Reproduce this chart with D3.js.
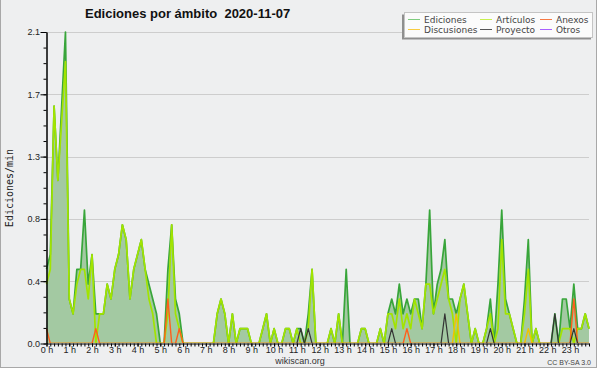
<!DOCTYPE html>
<html>
<head>
<meta charset="utf-8">
<script src="https://cdn.jsdelivr.net/npm/d3@7"></script>
<style>
  body { margin: 0; background: #fff; }
</style>
</head>
<body>
<div id="chart"></div>
<script>
// edits per minute, one value every 10 minutes (6 per hour row)
const ediciones = [
  0.5,0.6,1.6,1.1,1.6,2.1,  0.3,0.2,0.5,0.5,0.9,0.4,  0.6,0.2,0.2,0.2,0.4,0.3,
  0.5,0.6,0.8,0.7,0.3,0.5,  0.6,0.7,0.5,0.4,0.3,0.2,  0,0,0.5,0.8,0.3,0.2,
  0,0,0,0,0,0,              0,0,0,0.2,0.3,0.2,        0,0.2,0,0.1,0.1,0.1,
  0,0,0,0.1,0.2,0,          0.1,0,0,0.1,0.1,0,        0.1,0.1,0,0.2,0.5,0,
  0,0,0,0.1,0,0.2,          0,0.5,0,0,0,0.1,          0.1,0,0,0,0.1,0,
  0.2,0.3,0.2,0.4,0.2,0.3,  0.2,0.3,0.3,0.1,0.4,0.9,  0.2,0.4,0.5,0.7,0.3,0.3,
  0.2,0.3,0.4,0.2,0,0.1,    0,0,0.1,0.3,0,0.4,        0.9,0.3,0.2,0.1,0,0,
  0.3,0.7,0,0.1,0,0,        0,0,0.2,0,0.3,0.3,        0.1,0.4,0.1,0.1,0.2,0.1
];
const articulos = [
  0.4,0.5,1.6,1.1,1.5,1.9,  0.3,0.2,0.4,0.5,0.5,0.3,  0.6,0,0.2,0.2,0.4,0.3,
  0.5,0.6,0.8,0.7,0.3,0.5,  0.6,0.7,0.5,0.3,0.2,0,    0,0,0.2,0.8,0.2,0.1,
  0,0,0,0,0,0,              0,0,0,0.2,0.3,0.2,        0,0.2,0,0.1,0.1,0.1,
  0,0,0,0.1,0.2,0,          0.1,0,0,0.1,0.1,0,        0.1,0,0,0.1,0.5,0,
  0,0,0,0.1,0,0.2,          0,0,0,0,0,0.1,            0.1,0,0,0,0.1,0,
  0.2,0.2,0.1,0.3,0.1,0.2,  0.1,0.3,0.2,0.1,0.4,0.4,  0.2,0.3,0.4,0.5,0.3,0.2,
  0,0.3,0.4,0.2,0,0.1,      0,0,0.1,0.2,0,0.1,        0.7,0.2,0.2,0.1,0,0,
  0.2,0.5,0,0.1,0,0,        0,0,0,0,0.1,0.1,          0.1,0,0.1,0.1,0.2,0.1
];
const anexos = [
  0.1,0,0,0,0,0,  0,0,0,0,0,0,  0,0.1,0,0,0,0,  0,0,0,0,0,0,  0,0,0,0,0,0,  0,0,0.3,0,0,0.1,
  0,0,0,0,0,0,    0,0,0,0,0,0,  0,0,0,0,0,0,    0,0,0,0,0,0,  0,0,0,0,0,0,  0,0,0,0,0,0,
  0,0,0,0,0,0,    0,0,0,0,0,0,  0,0,0,0,0,0,    0,0,0,0,0,0.1, 0,0,0,0,0,0, 0,0,0,0,0,0,
  0,0,0,0,0,0,    0,0,0,0,0,0,  0,0,0,0,0,0,    0,0,0,0,0,0,  0,0,0,0,0,0,  0,0.3,0,0,0,0
];
const discusiones = [
  0,0,0,0,0,0,  0,0,0,0,0,0,  0,0,0,0,0,0,  0,0,0,0,0,0,  0,0,0,0,0,0,  0,0,0,0,0,0,
  0,0,0,0,0,0,  0,0,0,0,0,0,  0,0,0,0,0,0,  0,0,0,0,0,0,  0,0,0,0,0,0,  0,0,0,0,0,0,
  0,0,0,0,0,0,  0,0,0,0,0,0,  0,0,0,0,0,0,  0,0,0,0,0,0,  0,0,0,0,0,0,  0,0,0,0,0,0,
  0.2,0,0,0,0,0, 0,0,0,0,0,0, 0,0,0,0,0,0,  0,0.1,0,0,0,0, 0,0,0,0,0,0, 0,0,0,0,0,0
];
const proyecto = [
  0,0,0,0,0,0,  0,0,0,0,0,0,  0,0,0,0,0,0,  0,0,0,0,0,0,  0,0,0,0,0,0,  0,0,0,0,0,0,
  0,0,0,0,0,0,  0,0,0,0,0,0,  0,0,0,0,0,0,  0,0,0,0,0,0,  0,0,0,0,0,0,  0,0.1,0,0.1,0,0,
  0,0,0,0,0,0,  0,0,0,0,0,0,  0,0,0,0,0,0,  0,0.1,0,0,0,0, 0,0,0,0,0,0, 0,0,0,0.2,0,0,
  0,0,0,0,0,0,  0,0,0,0.1,0,0, 0,0,0,0,0,0, 0,0,0,0,0,0,  0,0,0.2,0,0,0, 0,0.1,0,0,0,0
];
const otros = new Array(144).fill(0);

const hourLabels = d3.range(24).map(h => h + ' h');
const yTicks = [0, 0.42, 0.84, 1.26, 1.68, 2.1];
const seriesNames = ['Ediciones', 'Artículos', 'Anexos', 'Discusiones', 'Proyecto', 'Otros'];

const width = 600;
const height = 370;
const margin = { top: 32, right: 11, bottom: 26.5, left: 46.5 };
const bg = '#eeeff0';

const svg = d3.select('#chart').append('svg')
    .attr('width', width)
    .attr('height', height);

// frame
svg.append('rect')
    .attr('x', 0.5).attr('y', -2)
    .attr('width', 596).attr('height', 369.5)
    .attr('fill', bg)
    .attr('stroke', '#a8a8a8');

const x = d3.scaleLinear()
    .domain([0, 143])
    .range([margin.left, width - margin.right]);
const y = d3.scaleLinear()
    .domain([0, 2.1])
    .range([height - margin.bottom, margin.top]);

// keep zero-valued lines from bleeding below the x axis
svg.append('clipPath').attr('id', 'plot')
    .append('rect')
    .attr('x', margin.left - 2).attr('y', 0)
    .attr('width', width - margin.left - margin.right + 4)
    .attr('height', y(0) - 0.5);

// grid
svg.append('g').selectAll('line')
    .data(yTicks.slice(1))
    .enter().append('line')
    .attr('x1', margin.left).attr('x2', width - margin.right)
    .attr('y1', d => Math.round(y(d)) + 0.5).attr('y2', d => Math.round(y(d)) + 0.5)
    .attr('stroke', '#cdcdcd');

const idx = d3.range(144);
const plot = svg.append('g').attr('clip-path', 'url(#plot)');

plot.append('path')
    .datum(idx)
    .attr('d', d3.area().x(i => x(i)).y0(y(0)).y1(i => y(ediciones[i])))
    .attr('fill', '#a3c9a2');

const line = arr => d3.line().x(i => x(i)).y(i => y(arr[i]));

const drawLine = (arr, color, w) => plot.append('path')
    .datum(idx)
    .attr('d', line(arr))
    .attr('fill', 'none')
    .attr('stroke', color)
    .attr('stroke-width', w)
    .attr('stroke-linejoin', 'round');

drawLine(otros, '#9a40ff', 1.2);
drawLine(ediciones, '#38a53a', 1.7);
drawLine(articulos, '#a2e400', 1.7);
drawLine(discusiones, '#f2c200', 1.4);
drawLine(anexos, '#ff5f1c', 1.4);
drawLine(proyecto, '#333', 1.2);

// y axis: minor + major
svg.append('g')
    .attr('transform', `translate(${margin.left},0)`)
    .call(d3.axisLeft(y).tickValues(d3.range(21).map(k => k * 0.105)).tickSize(3).tickSizeOuter(0).tickFormat(''));
const yAxis = svg.append('g')
    .attr('transform', `translate(${margin.left},0)`)
    .call(d3.axisLeft(y).tickValues(yTicks).tickSize(6).tickSizeOuter(0).tickFormat(d3.format('.1f')));
yAxis.selectAll('text')
    .attr('font-family', 'Liberation Sans')
    .attr('font-size', 9)
    .attr('fill', '#222')
    .attr('x', -6.5);

// x axis: 10 minute ticks + hour labels
svg.append('g')
    .attr('transform', `translate(0,${y(0)})`)
    .call(d3.axisBottom(x).tickValues(idx).tickSize(3).tickSizeOuter(0).tickFormat(''));
const xAxis = svg.append('g')
    .attr('transform', `translate(0,${y(0)})`)
    .call(d3.axisBottom(x).tickValues(d3.range(24).map(h => h * 6)).tickSize(3).tickSizeOuter(0)
        .tickFormat(d => hourLabels[d / 6]));
xAxis.select('.domain').remove();
xAxis.selectAll('text')
    .attr('font-family', 'Liberation Sans')
    .attr('font-size', 9)
    .attr('fill', '#222')
    .attr('y', 3)
    .attr('dy', '0.71em');

// titles
svg.append('text')
    .attr('x', 85).attr('y', 18)
    .attr('font-family', 'Liberation Sans')
    .attr('font-weight', 'bold')
    .attr('font-size', 13)
    .attr('fill', '#111')
    .attr('xml:space', 'preserve')
    .text('Ediciones por ámbito  2020-11-07');

svg.append('text')
    .attr('transform', 'translate(13,188) rotate(-90)')
    .attr('text-anchor', 'middle')
    .attr('font-family', 'DejaVu Sans Mono')
    .attr('font-size', 10)
    .attr('fill', '#222')
    .text('Ediciones/min');

svg.append('text')
    .attr('x', 300).attr('y', 364)
    .attr('text-anchor', 'middle')
    .attr('font-family', 'Liberation Sans')
    .attr('font-size', 9)
    .attr('fill', '#333')
    .text('wikiscan.org');

svg.append('text')
    .attr('x', 591).attr('y', 365)
    .attr('text-anchor', 'end')
    .attr('font-family', 'Liberation Sans')
    .attr('font-size', 7)
    .attr('fill', '#444')
    .text('CC BY-SA 3.0');

// legend
const legendColors = ['#7fcc7f', '#c8f050', '#f77a45', '#f8cc40', '#555', '#a860ff'];
svg.append('rect')
    .attr('x', 402).attr('y', 14.5)
    .attr('width', 189).attr('height', 25)
    .attr('fill', '#8f8f8f');
svg.append('rect')
    .attr('x', 404.5).attr('y', 12.5)
    .attr('width', 188).attr('height', 25)
    .attr('fill', '#fbfbfb')
    .attr('stroke', '#c4c4c4');

const colX = [408, 480, 540];
const legend = svg.append('g').selectAll('g')
    .data(seriesNames)
    .enter().append('g')
    .attr('transform', (d, i) => `translate(${colX[i % 3]},${19.5 + Math.floor(i / 3) * 10})`);
legend.append('line')
    .attr('x1', 0).attr('x2', 12)
    .attr('stroke', (d, i) => legendColors[i]);
legend.append('text')
    .attr('x', 16).attr('y', 3.2)
    .attr('font-family', 'DejaVu Sans')
    .attr('font-size', 9)
    .attr('fill', '#444')
    .text(d => d);
</script>
</body>
</html>
